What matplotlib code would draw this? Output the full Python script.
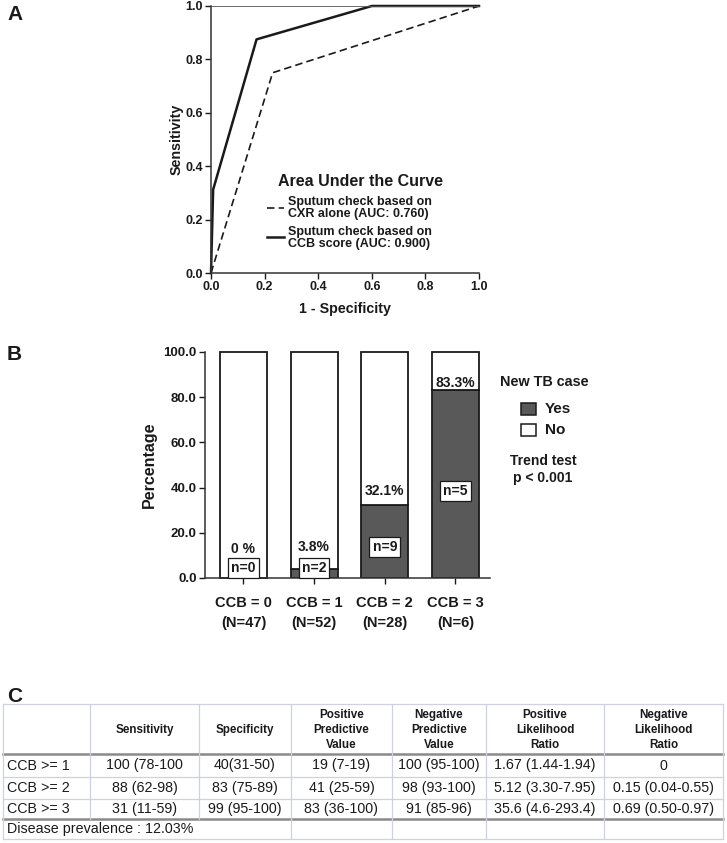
import matplotlib
import matplotlib.pyplot as plt
import matplotlib.transforms as mtransforms
from matplotlib.patches import Rectangle

matplotlib.use("Agg")
plt.rcParams["font.family"] = ["Liberation Sans", "DejaVu Sans"]

W, H = 727, 843
INK = "#1a1a1a"
DARK = "#595959"

# ---- panel A: ROC curves ----
cxr_fpr = [0.0, 0.23, 1.0]
cxr_tpr = [0.0, 0.75, 1.0]
ccb_fpr = [0.0, 0.008, 0.17, 0.60, 1.0]
ccb_tpr = [0.0, 0.3125, 0.875, 1.0, 1.0]
roc_labels = [
    "Sputum check based on\nCXR alone (AUC: 0.760)",
    "Sputum check based on\nCCB score (AUC: 0.900)",
]

# ---- panel B: stacked bars ----
ccb_groups = ["CCB = 0", "CCB = 1", "CCB = 2", "CCB = 3"]
group_n = [47, 52, 28, 6]
new_tb = [0, 2, 9, 5]
pct_yes = [0.0, 3.8, 32.1, 83.3]
pct_text = ["0 %", "3.8%", "32.1%", "83.3%"]

# ---- panel C: table ----
col_headers = [
    "",
    "Sensitivity",
    "Specificity",
    "Positive\nPredictive\nValue",
    "Negative\nPredictive\nValue",
    "Positive\nLikelihood\nRatio",
    "Negative\nLikelihood\nRatio",
]
row_labels = ["CCB >= 1", "CCB >= 2", "CCB >= 3"]
sensitivity = ["100 (78-100", "88 (62-98)", "31 (11-59)"]
specificity = ["40(31-50)", "83 (75-89)", "99 (95-100)"]
ppv = ["19 (7-19)", "41 (25-59)", "83 (36-100)"]
npv = ["100 (95-100)", "98 (93-100)", "91 (85-96)"]
plr = ["1.67 (1.44-1.94)", "5.12 (3.30-7.95)", "35.6 (4.6-293.4)"]
nlr = ["0", "0.15 (0.04-0.55)", "0.69 (0.50-0.97)"]
prevalence = "Disease prevalence : 12.03%"


def px_axes(fig, left, top, right, bottom):
    return fig.add_axes(
        [left / W, 1 - bottom / H, (right - left) / W, (bottom - top) / H]
    )


fig = plt.figure(figsize=(W / 100, H / 100), dpi=100)

# ---- panel A ----
ax = px_axes(fig, 211, 6, 479, 273)
ax.patch.set_visible(False)
ax.plot(cxr_fpr, cxr_tpr, color=INK, lw=1.2, dashes=(4.5, 2.5), clip_on=False)
ax.plot(ccb_fpr, ccb_tpr, color=INK, lw=1.8, clip_on=False)
ax.set_xlim(0, 1)
ax.set_ylim(0, 1)
ax.set_xticks([0, 0.2, 0.4, 0.6, 0.8, 1.0])
ax.set_yticks([0, 0.2, 0.4, 0.6, 0.8, 1.0])
ax.set_xticklabels([f"{v:.1f}" for v in ax.get_xticks()])
ax.set_yticklabels([f"{v:.1f}" for v in ax.get_yticks()])
for lab in ax.get_xticklabels() + ax.get_yticklabels():
    lab.set_fontweight("bold")
ax.tick_params(direction="out", length=4, width=1, labelsize=9, colors=INK, pad=2)
ax.spines["right"].set_visible(False)
ax.spines["top"].set_linewidth(0.6)
ax.spines["top"].set_color("#555555")
for s in ["left", "bottom"]:
    ax.spines[s].set_linewidth(1.1)
    ax.spines[s].set_color("#333333")
ax.set_xlabel("1 - Specificity", fontsize=10.3, fontweight="bold", color=INK, labelpad=6)
ax.set_ylabel("Sensitivity", fontsize=10.3, fontweight="bold", color=INK, labelpad=1)

# ---- panel B ----
bx = px_axes(fig, 205, 352, 490, 578)
bx.patch.set_visible(False)
x = list(range(len(ccb_groups)))
pct_no = [100 - v for v in pct_yes]
bx.bar(x, pct_yes, width=0.665, color=DARK, edgecolor=INK, lw=1.3, zorder=2)
bx.bar(x, pct_no, bottom=pct_yes, width=0.665, color="white", edgecolor=INK,
       lw=1.3, zorder=2, clip_on=False)
bx.set_xlim(-0.545, 3.49)
bx.set_ylim(0, 100)
bx.set_yticks([0, 20, 40, 60, 80, 100])
bx.set_yticklabels([f"{v:.1f}" for v in bx.get_yticks()])
bx.set_xticks(x)
bx.set_xticklabels([f"{g}\n(N={n})" for g, n in zip(ccb_groups, group_n)],
                   fontsize=10.5, fontweight="bold", linespacing=1.55)
shift = mtransforms.ScaledTranslation(6 / 100, 0, fig.dpi_scale_trans)
for lab in bx.get_xticklabels():
    lab.set_transform(lab.get_transform() + shift)
for lab in bx.get_yticklabels():
    lab.set_fontweight("bold")
bx.tick_params(axis="y", direction="out", length=4, width=1, labelsize=9.5,
               colors=INK, pad=2)
bx.tick_params(axis="x", direction="out", length=4, width=1, colors=INK, pad=9)
bx.spines["right"].set_visible(False)
bx.spines["top"].set_visible(False)
for s in ["left", "bottom"]:
    bx.spines[s].set_linewidth(1.1)
    bx.spines[s].set_color("#333333")
bx.set_ylabel("Percentage", fontsize=11.5, fontweight="bold", color=INK, labelpad=5)

pct_label_y = [12.8, 13.7, 38.5, 86.3]
n_label_y = [4.6, 4.6, 13.8, 38.6]
for i in x:
    bx.text(i, pct_label_y[i], pct_text[i], ha="center", va="center",
            fontsize=10, fontweight="bold", color=INK, zorder=4)
    bx.text(i, n_label_y[i], f"n={new_tb[i]}", ha="center", va="center",
            fontsize=10, fontweight="bold", color=INK, zorder=4,
            bbox=dict(boxstyle="square,pad=0.22", fc="white", ec=INK, lw=0.9))

# ---- pixel-space canvas: legends, letters and table ----
tab = fig.add_axes([0, 0, 1, 1])
tab.set_xlim(0, W)
tab.set_ylim(H, 0)
tab.axis("off")
tab.patch.set_visible(False)

# legend of panel A
tab.text(360, 182, "Area Under the Curve", ha="center", va="center",
         fontsize=11.5, fontweight="bold", color=INK)
tab.plot([267, 284], [208, 208], color=INK, lw=1.2, dashes=(4.5, 2.5))
tab.plot([267, 284], [237, 237], color=INK, lw=1.8)
for y, lab in zip([208, 238], roc_labels):
    tab.text(288, y, lab, ha="left", va="center", fontsize=9,
             fontweight="bold", color=INK, linespacing=0.95)

# legend of panel B
tab.text(544, 382, "New TB case", ha="center", va="center", fontsize=10.4,
         fontweight="bold", color=INK)
for y, fc, lab in [(409, DARK, "Yes"), (430, "white", "No")]:
    tab.add_patch(Rectangle((521, y - 6), 15, 12, fc=fc, ec=INK, lw=1.1))
    tab.text(545, y, lab, ha="left", va="center", fontsize=11,
             fontweight="bold", color=INK)
tab.text(543, 469.5, "Trend test\np < 0.001", ha="center", va="center",
         fontsize=10, fontweight="bold", color=INK, linespacing=1.3)

# panel letters
for letter, y in [("A", 14), ("B", 355), ("C", 697)]:
    tab.text(7, y, letter, fontsize=15, fontweight="bold", color=INK,
             va="center", ha="left")

# table
col_x = [3, 90, 199, 291, 392, 486, 604, 723]
row_y = [704, 754, 777, 799, 819, 839]
light = "#cfd0e0"
heavy = "#8a8a8a"

for y in [row_y[0], row_y[2], row_y[3], row_y[5]]:
    tab.plot([col_x[0], col_x[-1]], [y, y], color=light, lw=0.9)
for y in [row_y[1], row_y[4]]:
    tab.plot([col_x[0], col_x[-1]], [y, y], color=heavy, lw=1.8)
for i, cx in enumerate(col_x):
    tab.plot([cx, cx], [row_y[0], row_y[4]], color=light, lw=0.9)
    if i == 0 or i >= 3:
        tab.plot([cx, cx], [row_y[4], row_y[5]], color=light, lw=0.9)

for j, head in enumerate(col_headers):
    cx = (col_x[j] + col_x[j + 1]) / 2
    tab.text(cx, (row_y[0] + row_y[1]) / 2 + 1, head, ha="center", va="center",
             fontsize=8.4, fontweight="bold", color=INK, linespacing=1.35)

columns = [sensitivity, specificity, ppv, npv, plr, nlr]
for i, lab in enumerate(row_labels):
    cy = (row_y[i + 1] + row_y[i + 2]) / 2
    tab.text(col_x[0] + 4, cy, lab, ha="left", va="center", fontsize=10.3, color=INK)
    for j, col in enumerate(columns):
        cx = (col_x[j + 1] + col_x[j + 2]) / 2
        tab.text(cx, cy, col[i], ha="center", va="center", fontsize=10.3, color=INK)
tab.text(col_x[0] + 4, (row_y[4] + row_y[5]) / 2, prevalence, ha="left",
         va="center", fontsize=10.3, color=INK)

fig.savefig("out.png", dpi=100)
